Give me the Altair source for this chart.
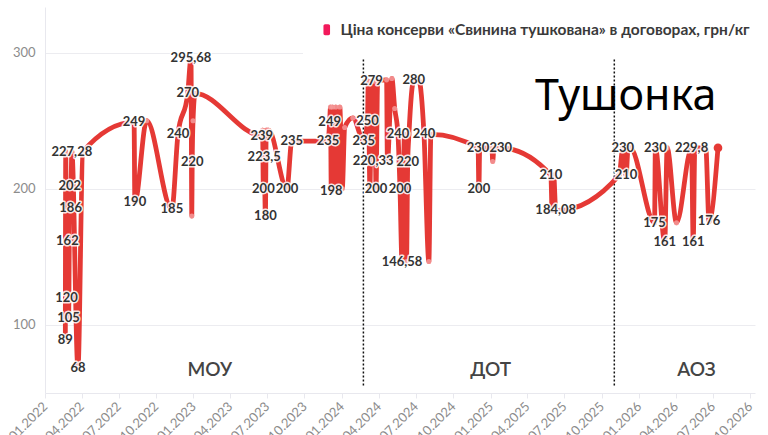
import altair as alt
import pandas as pd

series_name = "Ціна консерви «Свинина тушкована» в договорах, грн/кг"

dates = [
    "2022-02-20", "2022-02-21", "2022-02-23", "2022-02-25", "2022-02-28", "2022-03-03",
    "2022-03-05", "2022-03-08", "2022-03-23", "2022-04-04",
    "2022-08-08", "2022-08-10", "2022-09-08", "2022-11-09", "2022-11-24", "2022-12-18",
    "2022-12-26", "2022-12-28", "2022-12-29", "2022-12-31", "2023-01-05",
    "2023-06-18", "2023-06-20", "2023-06-22", "2023-06-24", "2023-06-27", "2023-06-29",
    "2023-07-05", "2023-08-19", "2023-08-31", "2023-11-28",
    "2023-12-02", "2023-12-04", "2023-12-06", "2023-12-09", "2023-12-13", "2023-12-17",
    "2023-12-22", "2023-12-27", "2024-01-02", "2024-01-08", "2024-01-28", "2024-02-24",
    "2024-03-04", "2024-03-06", "2024-03-10", "2024-03-14", "2024-03-18", "2024-03-22",
    "2024-03-25", "2024-03-29", "2024-04-20", "2024-04-22", "2024-05-03", "2024-05-10",
    "2024-05-18", "2024-05-23", "2024-05-28", "2024-06-03", "2024-06-08", "2024-06-11",
    "2024-06-14", "2024-06-26", "2024-07-08", "2024-07-21", "2024-08-02", "2024-08-07",
    "2024-12-01", "2024-12-03", "2024-12-05", "2025-01-04", "2025-01-06", "2025-01-09",
    "2025-01-26", "2025-05-29", "2025-06-01", "2025-06-05", "2025-06-10", "2025-06-16",
    "2025-11-13", "2025-11-22", "2025-11-30", "2025-12-05", "2025-12-10",
    "2026-02-08", "2026-02-10", "2026-03-05", "2026-03-11", "2026-04-03", "2026-05-10",
    "2026-05-14", "2026-05-18", "2026-06-14", "2026-06-22", "2026-07-14",
]
values = [
    89, 227.28, 120, 162, 105, 202,
    186, 227.28, 68, 227.28,
    249, 190, 250, 185, 240, 270,
    295.68, 180, 220, 250, 270,
    239, 243, 200, 223.5, 180, 243,
    243, 200, 235, 235,
    249, 260, 198, 260, 200, 260,
    198, 260, 200, 245, 252, 235,
    250, 279, 200, 279, 220.33, 279,
    200, 279, 280, 220, 281, 259,
    240, 200, 146.58, 240, 146.58, 220,
    240, 280, 280, 240, 146.58, 240,
    230, 200, 230, 230, 220, 230,
    230, 210, 184.08, 210, 184.08, 184.08,
    210, 230, 210, 230, 230,
    175, 230, 161, 230, 175, 229.8,
    161, 230, 230, 176, 230,
]
show_label = [
    1, 0, 1, 1, 1, 1,
    1, 1, 1, 0,
    1, 1, 0, 1, 1, 1,
    1, 0, 1, 0, 0,
    1, 0, 1, 1, 1, 0,
    0, 1, 1, 1,
    1, 0, 1, 0, 0, 0,
    0, 0, 0, 0, 0, 1,
    1, 0, 0, 1, 1, 0,
    1, 0, 0, 0, 0, 0,
    1, 1, 1, 0, 0, 1,
    0, 1, 0, 1, 0, 0,
    1, 1, 0, 0, 0, 0,
    1, 1, 0, 0, 1, 0,
    0, 1, 1, 0, 0,
    1, 1, 1, 0, 0, 1,
    1, 0, 0, 1, 0,
]

phase_names = ["МОУ", "ДОТ", "АОЗ"]
phase_dates = ["2023-02-10", "2025-01-01", "2026-05-22"]
phase_y = [67, 67, 67]

split_dates = ["2024-02-23", "2025-11-01"]

big_title = ["Тушонка"]
big_title_date = ["2025-11-29"]
big_title_y = [258]


def fmt(v):
    return str(v).replace(".", ",")


labels = [fmt(v) if s else "" for v, s in zip(values, show_label)]
df = pd.DataFrame({"date": dates, "value": values, "label": labels})
df["series"] = series_name
last_df = df.tail(1)

FONT = "Lato, 'Noto Sans', sans-serif"
LINE = "#e53935"

x_scale = alt.Scale(domain=[alt.DateTime(year=2022, month=1, date=1),
                            alt.DateTime(year=2026, month=10, date=13)], nice=False)
y_scale = alt.Scale(domain=[50, 333.5], nice=False, zero=False)

x_axis = alt.Axis(format="%m.%Y", tickCount={"interval": "month", "step": 3},
                  labelAngle=-45, labelAlign="right", labelBaseline="middle",
                  labelFont=FONT, labelFontSize=13, labelColor="#8c8c8c",
                  domainColor="#e8e8ee", tickColor="#e8e8ee", tickSize=5,
                  labelPadding=6, grid=False, title=None, labelOverlap=False,
                  labelFlush=False)
y_axis = alt.Axis(values=[100, 200, 300], grid=True, gridColor="#ececf0",
                  domainColor="#e8e8ee", ticks=False, labelFont=FONT,
                  labelFontSize=13, labelColor="#8c8c8c", labelPadding=10, title=None)

X = alt.X("date:T", scale=x_scale, axis=x_axis, title=None)
Y = alt.Y("value:Q", scale=y_scale, axis=y_axis, title=None)

legend_symbol = ("M-0.3,-1H0.3A0.3,0.3,0,0,1,0.6,-0.7V0.7A0.3,0.3,0,0,1,0.3,1"
                 "H-0.3A0.3,0.3,0,0,1,-0.6,0.7V-0.7A0.3,0.3,0,0,1,-0.3,-1Z")

base = alt.Chart(df)

rules = alt.Chart(pd.DataFrame({"date": split_dates})).mark_rule(
    strokeDash=[2, 2], color="#111111", strokeWidth=1.5
).encode(x=alt.X("date:T", scale=x_scale, title=None),
         y=alt.datum(295), y2=alt.datum(55))

line = base.mark_line(interpolate="monotone", strokeWidth=4.8, strokeCap="round",
                      strokeJoin="round").encode(
    x=X, y=Y,
    color=alt.Color("series:N", scale=alt.Scale(range=[LINE]),
                    legend=alt.Legend(orient="none", legendX=258, legendY=-1,
                                      title=None, labelFont=FONT, labelFontSize=15.5,
                                      labelFontWeight="bold", labelColor="#3a3a3a",
                                      labelLimit=700, symbolType=legend_symbol,
                                      symbolSize=121, symbolFillColor="#f2195b",
                                      symbolStrokeWidth=0, symbolOpacity=1,
                                      labelOffset=6, fillColor="white", padding=16)),
)

dots = base.mark_circle(size=26, color="#f59a9a", opacity=0.85).encode(
    x=alt.X("date:T", scale=x_scale, title=None),
    y=alt.Y("value:Q", scale=y_scale, title=None))

last_dot = alt.Chart(last_df).mark_circle(size=75, color=LINE, opacity=1).encode(
    x=alt.X("date:T", scale=x_scale, title=None),
    y=alt.Y("value:Q", scale=y_scale, title=None))

lab = base.transform_filter("datum.label != ''")
halo = lab.mark_text(font=FONT, fontSize=13, fontWeight="bold", stroke="white",
                     strokeWidth=3, strokeOpacity=0.85, fill="white",
                     strokeJoin="round").encode(
    x=alt.X("date:T", scale=x_scale, title=None),
    y=alt.Y("value:Q", scale=y_scale, title=None), text="label:N")
text = lab.mark_text(font=FONT, fontSize=13, fontWeight="bold", color="#333333").encode(
    x=alt.X("date:T", scale=x_scale, title=None),
    y=alt.Y("value:Q", scale=y_scale, title=None), text="label:N")

phases = alt.Chart(pd.DataFrame({"date": phase_dates, "y": phase_y, "name": phase_names})).mark_text(
    font=FONT, fontSize=19, fontWeight=600, color="#444444", baseline="middle"
).encode(x=alt.X("date:T", scale=x_scale, title=None),
         y=alt.Y("y:Q", scale=y_scale, title=None), text="name:N")

title_txt = alt.Chart(pd.DataFrame({"date": big_title_date, "y": big_title_y, "t": big_title})).mark_text(
    font="'Noto Sans', 'Open Sans', sans-serif", fontSize=43, color="#000000",
    baseline="alphabetic"
).encode(x=alt.X("date:T", scale=x_scale, title=None),
         y=alt.Y("y:Q", scale=y_scale, title=None), text="t:N")

chart = alt.layer(rules, line, dots, last_dot, halo, text, phases, title_txt).properties(
    width=710, height=386,
    padding={"left": 45, "top": 7, "right": 13, "bottom": 42},
    autosize="none",
).configure_view(stroke=None)

chart.save("out.html", embed_options={"renderer": "svg", "actions": False})
